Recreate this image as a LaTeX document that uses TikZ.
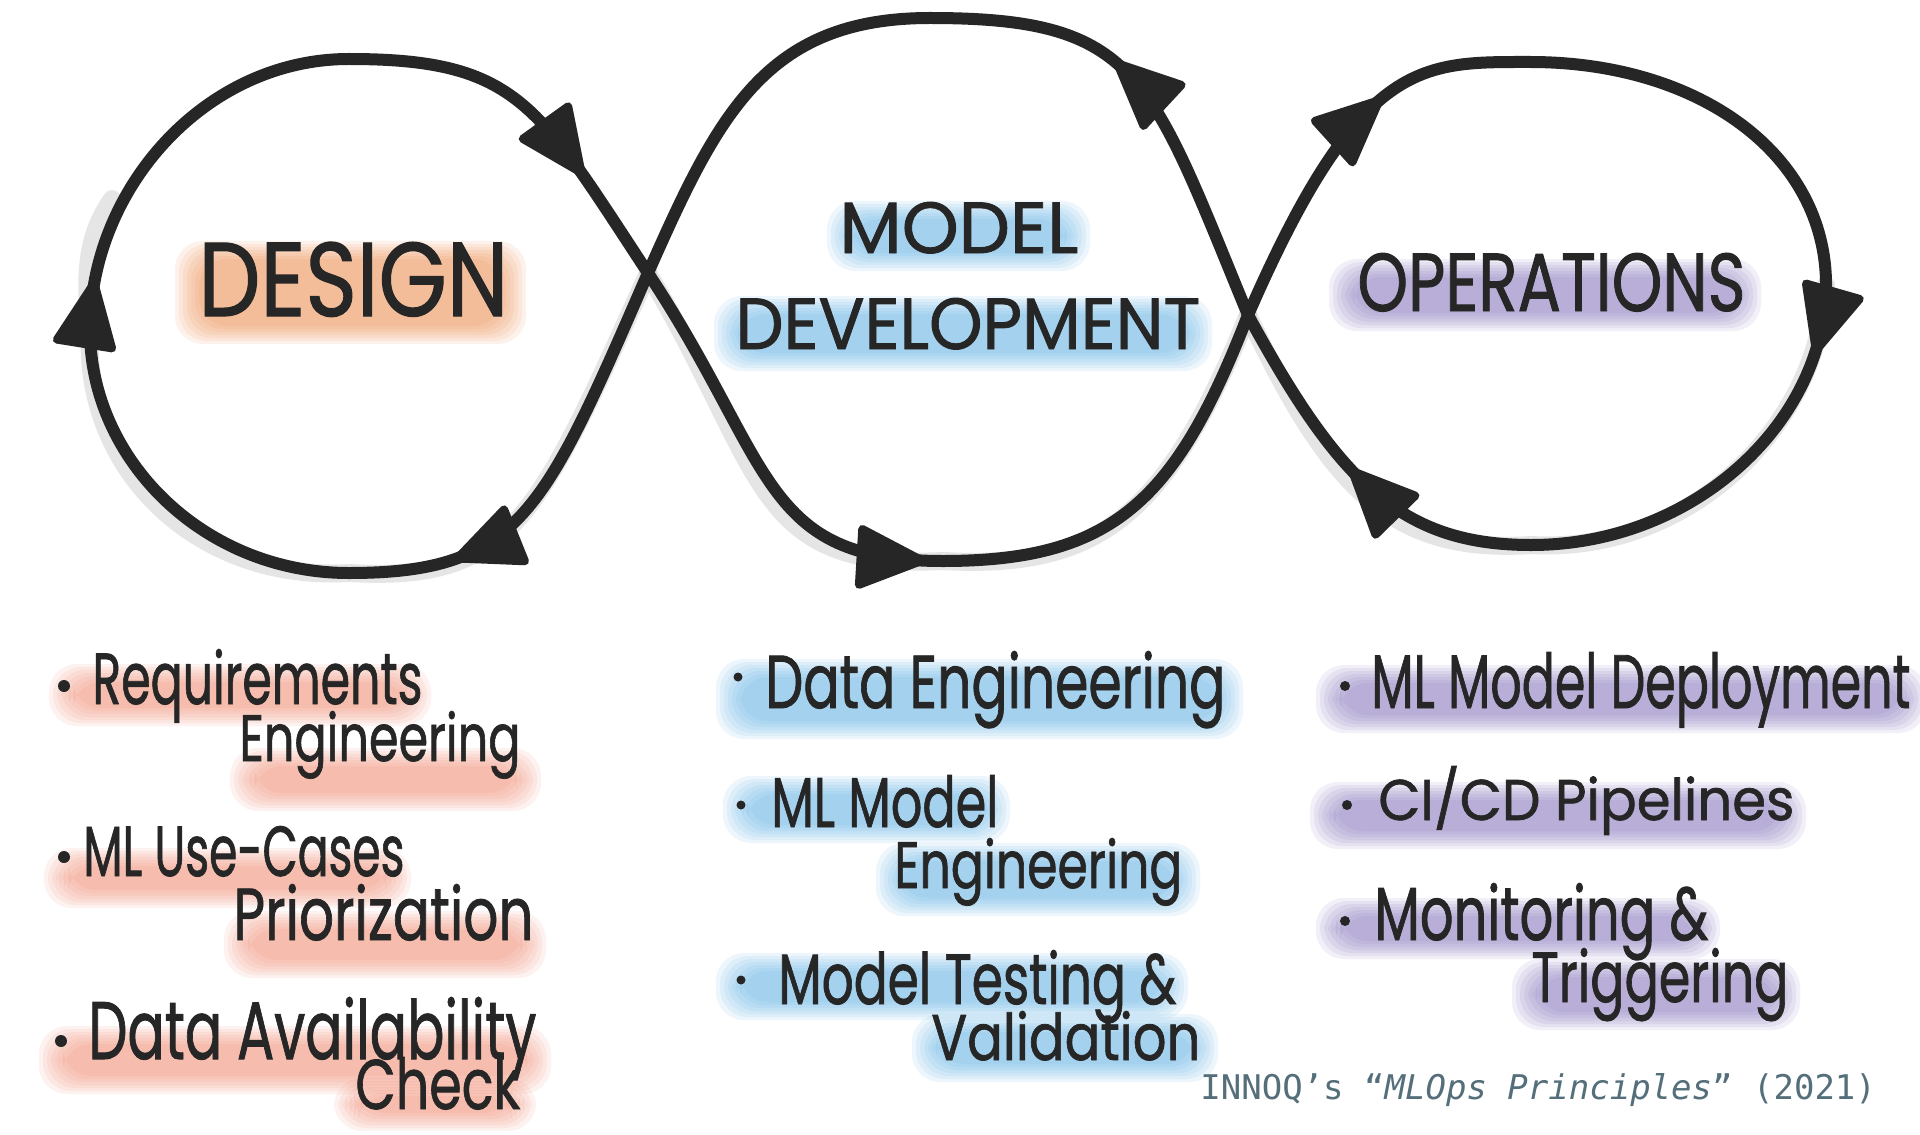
\documentclass[tikz,border=0pt]{standalone}
\usepackage{fontspec}
\usepackage{graphicx}
\setmainfont{Poppins}[FakeBold=1.2]
\newfontfamily\codefont{DejaVu Sans Mono}
\usetikzlibrary{decorations.markings}

\definecolor{ink}{RGB}{38,38,38}
\definecolor{hlorange}{RGB}{238,140,80}
\definecolor{hlpink}{RGB}{242,140,118}
\definecolor{hlblue}{RGB}{95,178,228}
\definecolor{hlpurple}{RGB}{135,112,188}
\definecolor{credit}{RGB}{84,110,122}

% soft marker highlight: colour, x1, y1, x2, y2 (pixel units, y downwards)
\newcommand\hilite[5]{%
  \foreach \k in {0,...,6}{%
    \fill[#1, opacity=.11, rounded corners=14pt]
      (#2-6+\k*4,#3-4+\k*3) rectangle (#4+6-\k*4,#5+4-\k*3);}%
}
% text squeezed to a given width and height (pixel units)
\newcommand\fitbox[3]{\resizebox{\dimexpr #1pt/2\relax}{\dimexpr #2pt/2\relax}{#3}}
% two-line entry: first line (w,h,text), offset of the second line (dx,dy), second line (w,h,text)
\newcommand\twoline[8]{%
  \rlap{\hspace*{\dimexpr #4pt/2\relax}\raisebox{-\dimexpr #5pt/2\relax}{\fitbox{#6}{#7}{#8}}}%
  \fitbox{#1}{#2}{#3}}
% hand-drawn arrowhead placed on the loop
\newcommand\inkarrow{\filldraw[ink, line width=4pt, line join=round]
  (3pt,0pt) -- (-28pt,14pt) -- (-28pt,-14pt) -- cycle;}

\tikzset{
  loopline/.style={draw=ink, line width=6pt, line cap=round, line join=round},
  shade/.style={draw=black!18, line width=9pt, line cap=round, opacity=.55,
                xshift=-4pt, yshift=-4.5pt},
  arr/.style={postaction={decorate},
              decoration={markings, mark=at position #1 with {\inkarrow}}},
  title/.style={anchor=base west, inner sep=0pt, text=ink},
  item/.style={anchor=base west, inner sep=0pt, text=ink},
  dot/.style={circle, fill=ink, inner sep=0pt, minimum size=#1},
  dot/.default=5.5pt,
}

\begin{document}
\begin{tikzpicture}[x=0.5pt, y=-0.5pt]
\useasboundingbox (0,0) rectangle (1920,1134);
\fill[white] (0,0) rectangle (1920,1134);

% key points of the three loops
\coordinate (c1) at (648,273);
\coordinate (c2) at (1248,315);
\coordinate (lt) at (349,59);
\coordinate (lf) at (90,330);
\coordinate (lb) at (349,573);
\coordinate (mt) at (930,18);
\coordinate (mb) at (943,561);
\coordinate (rt) at (1530,62);
\coordinate (rr) at (1826,285);
\coordinate (rb) at (1531,545);

% highlights behind the headings
\hilite{hlorange}{181}{245}{520}{340}
\hilite{hlblue}{833}{205}{1084}{267}
\hilite{hlblue}{720}{300}{1206}{367}
\hilite{hlpurple}{1335}{263}{1755}{327}

% highlights behind the lists
\hilite{hlpink}{55}{668}{425}{722}
\hilite{hlpink}{236}{752}{535}{807}
\hilite{hlpink}{50}{852}{405}{904}
\hilite{hlpink}{230}{915}{540}{974}
\hilite{hlpink}{45}{1030}{545}{1090}
\hilite{hlpink}{340}{1082}{530}{1127}

\hilite{hlblue}{722}{663}{1237}{735}
\hilite{hlblue}{729}{780}{1004}{839}
\hilite{hlblue}{882}{847}{1194}{912}
\hilite{hlblue}{722}{957}{1182}{1016}
\hilite{hlblue}{918}{1018}{1212}{1078}

\hilite{hlpurple}{1322}{669}{1920}{729}
\hilite{hlpurple}{1316}{786}{1800}{845}
\hilite{hlpurple}{1322}{902}{1714}{955}
\hilite{hlpurple}{1518}{963}{1794}{1026}

% soft shadow under the lower strokes
\draw[shade] (c1) .. controls (775,465) and (760,561) .. (mb)
                  .. controls (1113,561) and (1176,501) .. (c2);
\draw[shade] (rr) .. controls (1826,420) and (1696,545) .. (rb)
                  .. controls (1401,545) and (1339,482) .. (c2);
\draw[shade] (c1) .. controls (544,512) and (520,573) .. (lb)
                  .. controls (204,573) and (90,460) .. (lf)
                  .. controls (90,250) and (100,220) .. (120,190);

% the loop, segment by segment
\draw[loopline, arr=0.68] (lt) .. controls (519,59) and (538,106) .. (c1);
\draw[loopline, arr=0.94] (c1) .. controls (775,465) and (760,561) .. (mb);
\draw[loopline] (mb) .. controls (1113,561) and (1176,501) .. (c2);
\draw[loopline, arr=0.6] (c2) .. controls (1360,58) and (1420,62) .. (rt);
\draw[loopline] (rt) .. controls (1700,62) and (1826,155) .. (rr);
\draw[loopline, arr=0.14] (rr) .. controls (1826,420) and (1696,545) .. (rb);
\draw[loopline, arr=0.5] (rb) .. controls (1401,545) and (1339,482) .. (c2);
\draw[loopline, arr=0.58] (c2) .. controls (1149,75) and (1140,18) .. (mt);
\draw[loopline] (mt) .. controls (765,18) and (718,115) .. (c1);
\draw[loopline, arr=0.75] (c1) .. controls (544,512) and (520,573) .. (lb);
\draw[loopline] (lb) .. controls (204,573) and (90,460) .. (lf);
\draw[loopline, arr=0.10] (lf) .. controls (90,190) and (204,59) .. (lt);

% headings
\node[title] (design) at (198,316) {\fitbox{310}{74}{DESIGN}};
\node[title] (model) at (839,253) {\fitbox{239}{51}{MODEL}};
\node[title] (devel) at (735,349) {\fitbox{465}{51}{DEVELOPMENT}};
\node[title] (ops) at (1357,311) {\fitbox{388}{58}{OPERATIONS}};

% design tasks
\node[dot=6pt] (bd1) at (64,686) {};
\node[item] (d1) at (92,704)
  {\twoline{330}{55}{Requirements}{147}{57}{281}{50}{Engineering}};
\node[dot=6pt] (bd2) at (64,857) {};
\node[item] (d2) at (83,876)
  {\twoline{321}{50}{ML Use-Cases}{150}{64}{300}{56}{Priorization}};
\node[dot=6pt] (bd3) at (61,1041) {};
\node[item] (d3) at (88,1059)
  {\twoline{448}{62}{Data Availability}{267}{50}{165}{52}{Check}};

% model development tasks
\node[dot=4.5pt] (bm1) at (738,677) {};
\node[item] (m1) at (765,708) {\fitbox{460}{57}{Data Engineering}};
\node[dot=4.5pt] (bm2) at (741,805) {};
\node[item] (m2) at (771,827)
  {\twoline{227}{52}{ML Model}{123}{61}{288}{50}{Engineering}};
\node[dot=4.5pt] (bm3) at (741,980) {};
\node[item] (m3) at (778,1004)
  {\twoline{398}{54}{Model Testing \&}{153}{56}{269}{49}{Validation}};

% operations tasks
\node[dot=5pt] (bo1) at (1345,686) {};
\node[item] (o1) at (1371,708) {\fitbox{539}{56}{ML Model Deployment}};
\node[dot=5pt] (bo2) at (1347,805) {};
\node[item] (o2) at (1378,820) {\fitbox{416}{54}{CI/CD Pipelines}};
\node[dot=5pt] (bo3) at (1345,921) {};
\node[item] (o3) at (1374,940)
  {\twoline{334}{57}{Monitoring \&}{157}{62}{257}{54}{Triggering}};

% source line
\node[anchor=base west, inner sep=0pt, text=credit, font=\codefont\fontsize{17pt}{20pt}\selectfont]
  (src) at (1200,1099) {INNOQ’s “\textit{MLOps Principles}” (2021)};
\end{tikzpicture}
\end{document}
